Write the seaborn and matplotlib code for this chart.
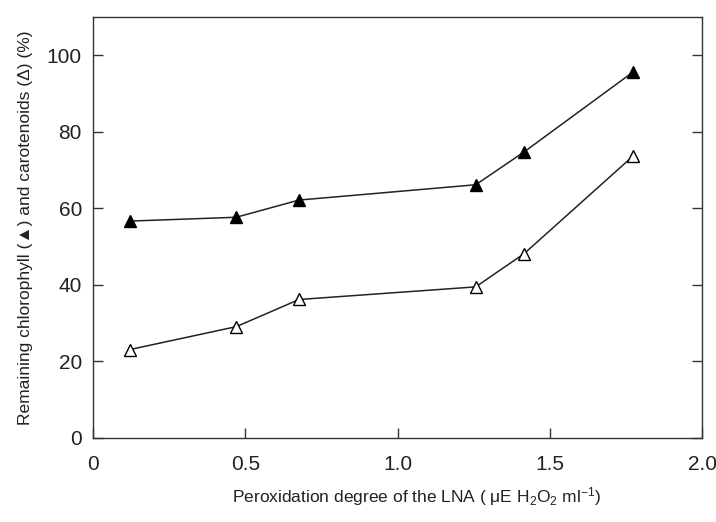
import matplotlib
matplotlib.use("Agg")
import matplotlib.pyplot as plt
import seaborn as sns
import pandas as pd

# Data
x_vals = [0.12, 0.47, 0.676, 1.256, 1.415, 1.771]
chlorophyll = [56.7, 57.7, 62.2, 66.2, 74.8, 95.6]
carotenoids = [23.1, 29.1, 36.2, 39.5, 48.2, 73.6]
x_ticks = [0, 0.5, 1.0, 1.5, 2.0]
x_tick_labels = ["0", "0.5", "1.0", "1.5", "2.0"]
y_ticks = [0, 20, 40, 60, 80, 100]

sns.set_style("white")
plt.rcParams['font.family'] = ['Liberation Sans', 'DejaVu Sans']
plt.rcParams['mathtext.fontset'] = 'custom'
plt.rcParams['mathtext.rm'] = 'Liberation Sans'
plt.rcParams['mathtext.it'] = 'Liberation Sans:italic'

fig = plt.figure(figsize=(7.16, 5.22), dpi=100)
ax = fig.add_axes([0.13, 0.161, 0.851, 0.806])

df = pd.DataFrame({"x": x_vals, "chl": chlorophyll, "car": carotenoids})

sns.lineplot(data=df, x="x", y="chl", ax=ax, color="#222222", lw=1.1,
             marker="^", markersize=8, markerfacecolor="black",
             markeredgecolor="black", markeredgewidth=1.0)
sns.lineplot(data=df, x="x", y="car", ax=ax, color="#222222", lw=1.1,
             marker="^", markersize=8, markerfacecolor="white",
             markeredgecolor="black", markeredgewidth=1.0)

ax.set_xlim(0, 2.0)
ax.set_ylim(0, 110)
ax.set_xticks(x_ticks)
ax.set_xticklabels(x_tick_labels)
ax.set_yticks(y_ticks)

ax.tick_params(axis='both', which='major', direction='in', length=7,
               width=1.0, color='#333333', labelsize=15, labelcolor='#222222')
ax.tick_params(axis='y', right=True, left=True)
ax.tick_params(axis='x', top=False, bottom=True, pad=12)
ax.tick_params(axis='y', pad=8)

for s in ax.spines.values():
    s.set_visible(True)
    s.set_color('#333333')
    s.set_linewidth(1.0)

ax.set_xlabel("Peroxidation degree of the LNA ( \u03bcE H$_2$O$_2$ ml$^{-1}$)",
              fontsize=12.5, color='#222222')
ax.xaxis.set_label_coords(0.532, -0.112)
ax.set_ylabel("Remaining chlorophyll (\u25b2) and carotenoids (\u0394) (%)",
              fontsize=12.5, color='#222222', labelpad=10)

fig.savefig("out.png", dpi=100, facecolor="white")
